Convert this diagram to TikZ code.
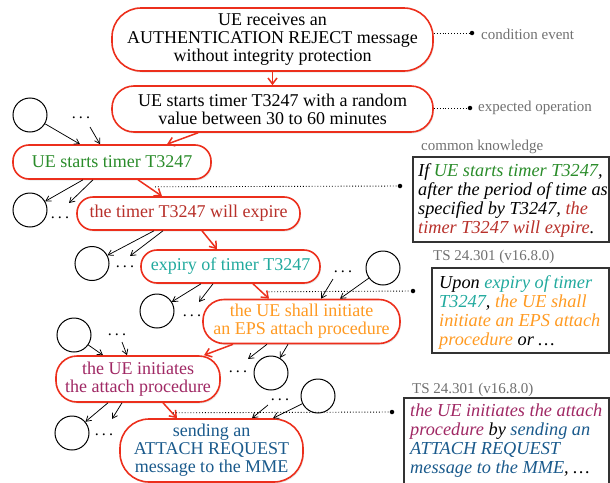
\documentclass[tikz,border=0pt]{standalone}
\usepackage{fontspec}
\setmainfont{Liberation Serif}
\usetikzlibrary{arrows.meta,calc,shadows}
\definecolor{redb}{HTML}{EC2F1C}
\definecolor{cgreen}{HTML}{2A8C2A}
\definecolor{cdred}{HTML}{B8302A}
\definecolor{cteal}{HTML}{22AA9E}
\definecolor{corange}{HTML}{FF9A22}
\definecolor{cpurple}{HTML}{A02864}
\definecolor{cblue}{HTML}{1A5A8C}
\definecolor{cgray}{HTML}{707070}
\definecolor{cbox}{HTML}{333333}
\newcommand{\tridots}{.\kern3.2pt.\kern3.2pt.}
\tikzset{
  pill/.style={draw=redb, line width=1.6pt, fill=white, rounded corners=#1, align=center,
    inner sep=0pt, font=\fontsize{18}{18}\selectfont,
    drop shadow={opacity=0.18, shadow xshift=1pt, shadow yshift=-1.5pt}},
  pill/.default=16pt,
  circ/.style={circle, draw, line width=1pt, minimum size=34pt, inner sep=0pt},
  dotsnode/.style={inner sep=0pt, font=\fontsize{16}{16}\selectfont},
  blk/.style={-{Straight Barb[length=5pt,width=6pt]}, line width=0.75pt, black},
  redarr/.style={-{Straight Barb[length=6pt,width=9pt]}, line width=1.5pt, redb},
  dotline/.style={dotted, line width=0.9pt, black},
  endpt/.style={circle, fill=black, inner sep=0pt, minimum size=4.5pt},
  lbl/.style={text=cgray, inner sep=0pt, anchor=west, font=\fontsize{15}{15}\selectfont},
  kbox/.style={draw=cbox, line width=1.1pt},
  ktext/.style={anchor=north west, align=left, inner sep=0pt, font=\fontsize{18.3}{19}\selectfont\itshape}
}
\begin{document}
\begin{tikzpicture}[x=1pt,y=-1pt]
\useasboundingbox (0,0) rectangle (610,482);

% main chain
\node[pill=29pt, minimum width=321pt, minimum height=63pt] (n1) at (272.5,39.5)
  {UE receives an\\AUTHENTICATION REJECT message\\without integrity protection};
\node[pill=22pt, minimum width=321pt, minimum height=46pt] (n2) at (272.5,109)
  {UE starts timer T3247 with a random\\value between 30 to 60 minutes};
\node[pill=16pt, minimum width=198pt, minimum height=34pt, text=cgreen] (n3) at (112,162)
  {UE starts timer T3247};
\node[pill=16pt, minimum width=223pt, minimum height=33pt, text=cdred] (n4) at (188.5,213.5)
  {the timer T3247 will expire};
\node[pill=16pt, minimum width=179pt, minimum height=33pt, text=cteal] (n5) at (230.5,266.5)
  {expiry of timer T3247};
\node[pill=21pt, minimum width=197pt, minimum height=44pt, text=corange] (n6) at (301.5,321.5)
  {the UE shall initiate\\an EPS attach procedure};
\node[pill=21pt, minimum width=164pt, minimum height=46pt, text=cpurple] (n7) at (138,379)
  {the UE initiates\\the attach procedure};
\node[pill=29pt, minimum width=183pt, minimum height=63pt, text=cblue] (n8) at (211.5,450.5)
  {sending an\\ATTACH REQUEST\\message to the MME};

% circles and dots
\node[circ] (c1) at (30,115) {};
\node[dotsnode] (d1) at (81,118) {\tridots};
\node[circ] (c2) at (30,210) {};
\node[dotsnode] (d2) at (60,218) {\tridots};
\node[circ] (c3) at (92,263.5) {};
\node[dotsnode] (d3) at (125,267) {\tridots};
\node[circ] (c4) at (157,311) {};
\node[dotsnode] (d4) at (192,316) {\tridots};
\node[circ] (c5) at (383,268) {};
\node[dotsnode] (d5) at (343,272) {\tridots};
\node[circ] (c6) at (74,335) {};
\node[dotsnode] (d6) at (117,335) {\tridots};
\node[circ] (c7) at (271,373) {};
\node[dotsnode] (d7) at (238,372) {\tridots};
\node[circ] (c8) at (72,433) {};
\node[dotsnode] (d8) at (104,435) {\tridots};
\node[circ] (c9) at (318,396) {};
\node[dotsnode] (d9) at (280,400) {\tridots};

% red arrows
\draw[redarr] (n1.south) -- (n2.north);
\draw[redarr] ($(n2.south)+(-74.5,0)$) -- ($(n3.north)+(55,0)$);
\draw[redarr] ($(n3.south)+(26,0)$) -- ($(n4.north)+(-26.5,0)$);
\draw[redarr] ($(n4.south)+(13.5,0)$) -- ($(n5.north)+(-13.5,0)$);
\draw[redarr] ($(n5.south)+(22.5,0)$) -- ($(n6.north)+(-32.5,0)$);
\draw[redarr] ($(n6.south)+(-68.5,0)$) -- ($(n7.north)+(66,0)$);
\draw[redarr] ($(n7.south)+(25,0)$) -- ($(n8.north)+(-34.5,0)$);

% black arrows
\draw[blk] (c1) -- ($(n3.north)+(-32,0)$);
\draw[blk] ($(d1)+(9,9)$) -- ($(n3.north)+(-12,0)$);
\draw[blk] ($(n3.south)+(-29,0)$) -- (c2);
\draw[blk] ($(n3.south)+(-19,0)$) -- ($(d2)+(9,-15)$);
\draw[blk] ($(n4.south)+(-34.5,0)$) -- (c3);
\draw[blk] ($(n4.south)+(-25.5,0)$) -- ($(d3)+(5,-11)$);
\draw[blk] ($(n5.south)+(-29.5,0)$) -- (c4);
\draw[blk] ($(n5.south)+(-17.5,0)$) -- ($(d4)+(7,-14)$);
\draw[blk] (c5) -- ($(n6.north)+(38.5,0)$);
\draw[blk] ($(d5)+(-10,7)$) -- ($(n6.north)+(19.5,0)$);
\draw[blk] (c6) -- ($(n7.north)+(-35,0)$);
\draw[blk] ($(d6)+(5,7)$) -- ($(n7.north)+(-11,0)$);
\draw[blk] ($(n6.south)+(-34.5,0)$) -- ($(d7)+(10,-13)$);
\draw[blk] ($(n6.south)+(-13.5,0)$) -- (c7);
\draw[blk] ($(n7.south)+(-30,0)$) -- (c8);
\draw[blk] ($(n7.south)+(-16,0)$) -- ($(d8)+(8,-16)$);
\draw[blk] (c9) -- ($(n8.north)+(61.5,0)$);
\draw[blk] ($(d9)+(-12,5)$) -- ($(n8.north)+(40.5,0)$);

% dotted connectors and labels
\node[endpt] (k1) at (472,33) {};
\draw[dotline] ($(n1.east)+(0,-6.5)$) -- (k1);
\node[lbl] (l1) at (481,34) {condition event};
\node[endpt] (k2) at (470,108) {};
\draw[dotline] ($(n2.east)+(0,-1)$) -- (k2);
\node[lbl] (l2) at (478,108) {expected operation};

\coordinate (s3) at ($(n3.south)+(43,7)$);
\node[endpt] (k3) at (400,186) {};
\draw[dotline] (s3) -- (k3);
\coordinate (s5) at ($(n5.south)+(38,8)$);
\node[endpt] (k5) at (413,291) {};
\draw[dotline] (s5) -- (k5);
\coordinate (s7) at ($(n7.south)+(35,10)$);
\node[endpt] (k7) at (392,412) {};
\draw[dotline] (s7) -- (k7);

% knowledge boxes
\node[lbl] (t1) at (421,147) {common knowledge};
\draw[kbox] (413,157) rectangle (609,242);
\node[ktext] (b1) at (418,163)
  {If {\color{cgreen}UE starts timer T3247},\\
   after the period of time as\\
   specified by T3247, {\color{cdred}the}\\
   {\color{cdred}timer T3247 will expire}.};

\node[lbl] (t2) at (433,257) {TS 24.301 (v16.8.0)};
\draw[kbox] (432,268) rectangle (609,353);
\node[ktext] (b2) at (439,275)
  {Upon {\color{cteal}expiry of timer}\\
   {\color{cteal}T3247}, {\color{corange}the UE shall}\\
   {\color{corange}initiate an EPS attach}\\
   {\color{corange}procedure} or …};

\node[lbl] (t3) at (412,390) {TS 24.301 (v16.8.0)};
\draw[kbox] (404,398) rectangle (609,492);
\node[ktext] (b3) at (410,404)
  {{\color{cpurple}the UE initiates the attach}\\
   {\color{cpurple}procedure} by {\color{cblue}sending an}\\
   {\color{cblue}ATTACH REQUEST}\\
   {\color{cblue}message to the MME}, …};
\end{tikzpicture}
\end{document}
